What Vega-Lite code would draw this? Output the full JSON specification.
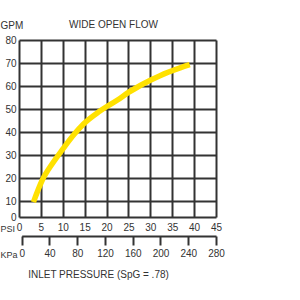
{
  "$schema": "https://vega.github.io/schema/vega-lite/v6.json",
  "autosize": "none",
  "width": 197,
  "height": 177,
  "padding": {"left": 19, "top": 40, "right": 84, "bottom": 83},
  "background": "white",
  "title": {
    "text": "WIDE OPEN FLOW",
    "anchor": "middle",
    "orient": "top",
    "font": "Liberation Sans",
    "fontSize": 10,
    "fontWeight": "normal",
    "color": "#333333",
    "offset": 0,
    "dx": -4,
    "dy": 10
  },
  "config": {
    "view": {"stroke": null},
    "axis": {"labelFont": "Liberation Sans", "titleFont": "Liberation Sans", "labelColor": "#333333", "titleColor": "#333333", "labelFontSize": 10, "titleFontSize": 10, "titleFontWeight": "normal"}
  },
  "datasets": {
    "flow": [
      {"psi": 3.3, "gpm": 9.3},
      {"psi": 5.3, "gpm": 19.0},
      {"psi": 7.6, "gpm": 26.2},
      {"psi": 9.9, "gpm": 32.3},
      {"psi": 12.6, "gpm": 39.0},
      {"psi": 14.8, "gpm": 43.6},
      {"psi": 18.4, "gpm": 49.0},
      {"psi": 22.5, "gpm": 53.9},
      {"psi": 25.0, "gpm": 57.2},
      {"psi": 27.6, "gpm": 60.1},
      {"psi": 30.0, "gpm": 62.5},
      {"psi": 32.2, "gpm": 64.5},
      {"psi": 36.8, "gpm": 67.9},
      {"psi": 39.0, "gpm": 69.3}
    ],
    "kpa": [
      {"kpa": 0, "z": 0},
      {"kpa": 280, "z": 0}
    ]
  },
  "layer": [
    {
      "data": {"name": "flow"},
      "mark": {"type": "line", "color": "#FFE100", "strokeWidth": 5.5, "interpolate": "monotone", "strokeCap": "butt"},
      "encoding": {
        "x": {
          "field": "psi", "type": "quantitative",
          "scale": {"domain": [0, 45], "nice": false, "zero": false},
          "axis": {
            "values": [0, 5, 10, 15, 20, 25, 30, 35, 40, 45],
            "grid": true, "gridColor": "#333333", "gridWidth": 2, "gridOpacity": 1,
            "ticks": false, "domain": false, "labelPadding": 5, "labelFlush": false,
            "title": "PSI", "titleFontSize": 9, "titleAngle": 0, "titleAlign": "left", "titleBaseline": "middle",
            "titleX": -19, "titleY": 11
          }
        },
        "y": {
          "field": "gpm", "type": "quantitative",
          "scale": {"domain": [0, 10, 80], "range": [177, 161, 0], "nice": false, "zero": false},
          "axis": {
            "values": [0, 10, 20, 30, 40, 50, 60, 70, 80],
            "grid": true, "gridColor": "#333333", "gridWidth": 2, "gridOpacity": 1,
            "ticks": false, "domain": false, "labelPadding": 3, "labelFlush": false,
            "title": "GPM", "titleAngle": 0, "titleAlign": "left", "titleBaseline": "middle",
            "titleX": -19, "titleY": -15
          }
        }
      }
    },
    {
      "data": {"name": "kpa"},
      "mark": {"type": "point", "opacity": 0},
      "encoding": {
        "x": {
          "field": "kpa", "type": "quantitative",
          "scale": {"domain": [0, 280], "range": [2.7, 197], "nice": false, "zero": false},
          "axis": {
            "orient": "bottom", "offset": 19,
            "values": [0, 40, 80, 120, 160, 200, 240, 280],
            "grid": false, "domainColor": "#333333", "domainWidth": 2,
            "tickColor": "#333333", "tickWidth": 2, "tickSize": 9,
            "labelPadding": 3, "labelFlush": false,
            "title": "KPa", "titleFontSize": 9, "titleAngle": 0, "titleAlign": "left", "titleBaseline": "middle",
            "titleX": -19, "titleY": 18
          }
        },
        "y": {
          "field": "z", "type": "quantitative",
          "scale": {"domain": [0, 1]},
          "axis": {
            "orient": "right", "labels": false, "ticks": false, "domain": false, "grid": false,
            "title": "INLET PRESSURE (SpG = .78)", "titleAngle": 0, "titleAlign": "center", "titleBaseline": "middle",
            "titleX": -118, "titleY": 234
          }
        }
      }
    }
  ],
  "resolve": {"scale": {"x": "independent", "y": "independent"}}
}
